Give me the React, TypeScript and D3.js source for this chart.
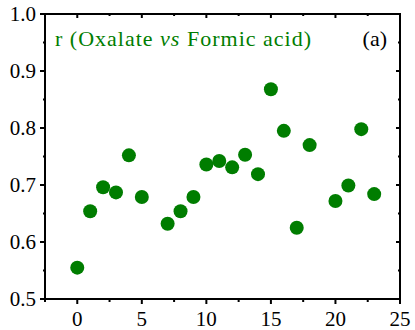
import React, { useRef, useEffect } from 'react';
import * as d3 from 'd3';

const xValues = [0, 1, 2, 3, 4, 5, 7, 8, 9, 10, 11, 12, 13, 14, 15, 16, 17, 18, 20, 21, 22, 23];
const rValues = [0.555, 0.654, 0.696, 0.687, 0.752, 0.679, 0.632, 0.654, 0.679, 0.736, 0.742, 0.731,
    0.753, 0.719, 0.868, 0.795, 0.625, 0.770, 0.672, 0.699, 0.798, 0.684];
const xTicks = [0, 5, 10, 15, 20, 25];
const yTicks = [0.5, 0.6, 0.7, 0.8, 0.9, 1.0];

const WIDTH = 415;
const HEIGHT = 330;
const GREEN = '#007d00';
const FONT = "Times New Roman, Liberation Serif, DejaVu Serif, serif";

export default function App() {
    const svgRef = useRef<SVGSVGElement>(null);

    useEffect(() => {
        const svg = d3.select(svgRef.current);
        const left = 45, right = 400, top = 14, bottom = 299;

        const x = d3.scaleLinear().domain([-2.5, 25]).range([left, right]);
        const y = d3.scaleLinear().domain([0.5, 1.0]).range([bottom, top]);

        const g = svg.append('g');

        const xMinor = d3.range(-2.5, 25.01, 2.5).filter(v => !xTicks.includes(v));
        const yMinor = d3.range(0.55, 1.0, 0.1);

        // bottom axis: major ticks out, minor ticks out shorter
        g.selectAll('line.xt').data(xTicks).join('line')
            .attr('x1', d => x(d)).attr('x2', d => x(d))
            .attr('y1', bottom).attr('y2', bottom + 5)
            .attr('stroke', '#000').attr('stroke-width', 2);
        g.selectAll('line.xm').data(xMinor).join('line')
            .attr('x1', d => x(d)).attr('x2', d => x(d))
            .attr('y1', bottom).attr('y2', bottom + 3)
            .attr('stroke', '#000').attr('stroke-width', 2);
        // top axis: ticks in
        g.selectAll('line.xtt').data(xTicks.concat(xMinor)).join('line')
            .attr('x1', d => x(d)).attr('x2', d => x(d))
            .attr('y1', top).attr('y2', d => top + (xTicks.includes(d) ? 4 : 2))
            .attr('stroke', '#000').attr('stroke-width', 2);
        // left axis: major out, minor in
        g.selectAll('line.yt').data(yTicks).join('line')
            .attr('x1', left - 5).attr('x2', left)
            .attr('y1', d => y(d)).attr('y2', d => y(d))
            .attr('stroke', '#000').attr('stroke-width', 2);
        g.selectAll('line.ym').data(yMinor).join('line')
            .attr('x1', left - 2).attr('x2', left + 1)
            .attr('y1', d => y(d)).attr('y2', d => y(d))
            .attr('stroke', '#000').attr('stroke-width', 2);
        // right axis: ticks in
        g.selectAll('line.yr').data(yTicks.concat(yMinor)).join('line')
            .attr('x1', d => right - (yTicks.includes(d) ? 4 : 2)).attr('x2', right)
            .attr('y1', d => y(d)).attr('y2', d => y(d))
            .attr('stroke', '#000').attr('stroke-width', 2);

        g.append('rect')
            .attr('x', left).attr('y', top)
            .attr('width', right - left).attr('height', bottom - top)
            .attr('fill', 'none').attr('stroke', '#000').attr('stroke-width', 2);

        g.selectAll('text.xl').data(xTicks).join('text')
            .attr('x', d => x(d)).attr('y', 326)
            .attr('text-anchor', 'middle')
            .attr('font-family', FONT).attr('font-size', 21)
            .text(d => d);
        g.selectAll('text.yl').data(yTicks).join('text')
            .attr('x', 36).attr('y', d => y(d) + 7)
            .attr('text-anchor', 'end')
            .attr('font-family', FONT).attr('font-size', 21)
            .text(d => d.toFixed(1));

        g.selectAll('circle').data(xValues).join('circle')
            .attr('cx', d => x(d))
            .attr('cy', (d, i) => y(rValues[i]))
            .attr('r', 7)
            .attr('fill', GREEN);

        // title, stretched to the width it has in the original
        const title = g.append('text')
            .attr('x', 55).attr('y', 46)
            .attr('font-family', FONT).attr('font-size', 22)
            .attr('textLength', 256).attr('lengthAdjust', 'spacing')
            .attr('fill', GREEN);
        title.append('tspan').text('r (Oxalate ');
        title.append('tspan').attr('font-style', 'italic').text('vs');
        title.append('tspan').text(' Formic acid)');

        g.append('text')
            .attr('x', 387).attr('y', 46)
            .attr('text-anchor', 'end')
            .attr('font-family', FONT).attr('font-size', 22)
            .text('(a)');

        return () => { g.remove(); };
    });

    return (
        <svg ref={svgRef} width={WIDTH} height={HEIGHT}
            style={{ position: 'absolute', left: 0, top: 0, background: '#fff' }} />
    );
}
